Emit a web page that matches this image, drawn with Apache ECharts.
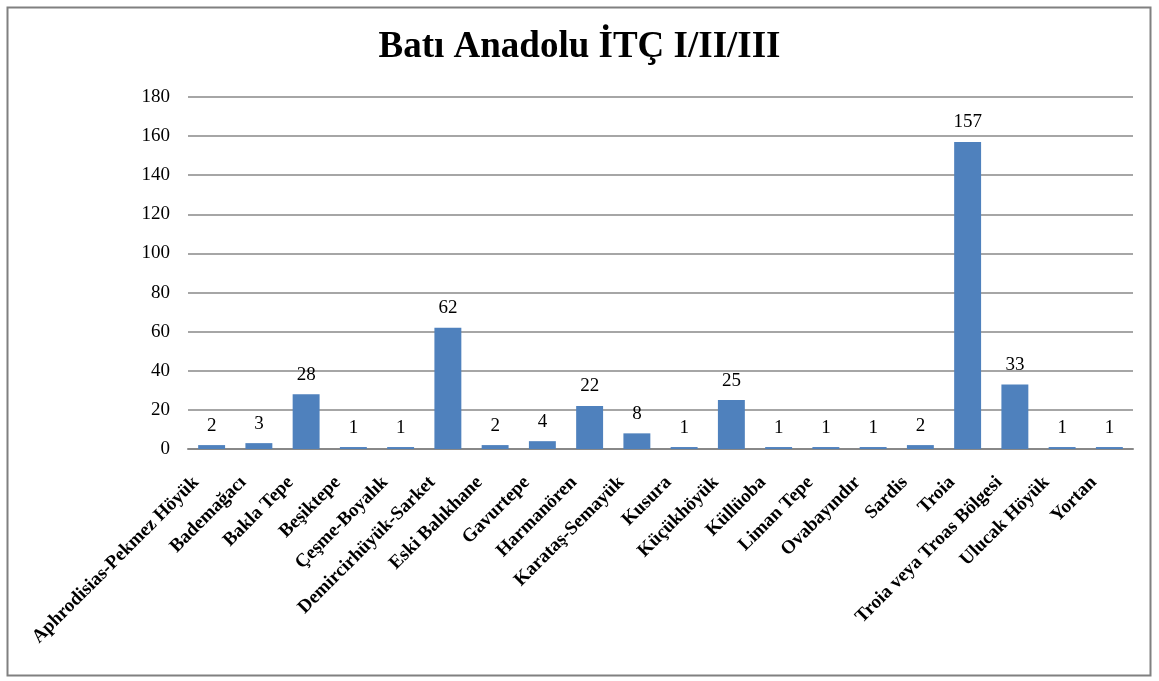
<!DOCTYPE html>
<html>
<head>
<meta charset="utf-8">
<script src="https://cdn.jsdelivr.net/npm/echarts@6/dist/echarts.min.js"></script>
<style>
  html, body { margin: 0; padding: 0; background: #fff; }
  #chart { width: 1159px; height: 681px; }
</style>
</head>
<body>
<div id="chart"></div>
<script>
var title_text = 'Batı Anadolu İTÇ I/II/III';
var sites = ['Aphrodisias-Pekmez Höyük', 'Bademağacı', 'Bakla Tepe', 'Beşiktepe', 'Çeşme-Boyalık',
    'Demircirhüyük-Sarket', 'Eski Balıkhane', 'Gavurtepe', 'Harmanören', 'Karataş-Semayük',
    'Kusura', 'Küçükhöyük', 'Küllüoba', 'Liman Tepe', 'Ovabayındır', 'Sardis', 'Troia',
    'Troia veya Troas Bölgesi', 'Ulucak Höyük', 'Yortan'];
var counts = [2, 3, 28, 1, 1, 62, 2, 4, 22, 8, 1, 25, 1, 1, 1, 2, 157, 33, 1, 1];

var serif = '"Liberation Serif", "DejaVu Serif", serif';

var chart = echarts.init(document.getElementById('chart'));
var option = {
    animation: false,
    title: {
        text: title_text,
        left: 'center',
        top: 24,
        textStyle: {fontFamily: serif, fontSize: 37, fontWeight: 'bold', color: '#000'}
    },
    graphic: [{
        type: 'rect',
        shape: {x: 7.5, y: 7.5, width: 1143, height: 668},
        style: {fill: 'none', stroke: '#808080', lineWidth: 2},
        silent: true
    }],
    grid: {left: 188, right: 26, top: 97, bottom: 232},
    xAxis: {
        type: 'category',
        data: sites,
        axisTick: {show: false},
        axisLine: {lineStyle: {color: '#888', width: 2}},
        axisLabel: {
            interval: 0,
            rotate: 45,
            margin: 15,
            padding: [0, 22, 0, 0],
            fontFamily: serif,
            fontSize: 19,
            fontWeight: 'bold',
            color: '#000'
        }
    },
    yAxis: {
        type: 'value',
        min: 0,
        max: 180,
        interval: 20,
        axisLine: {show: false},
        axisTick: {show: false},
        splitLine: {lineStyle: {color: '#888', width: 1.5}},
        axisLabel: {margin: 18, fontFamily: serif, fontSize: 19, color: '#000'}
    },
    series: [{
        type: 'bar',
        data: counts,
        barWidth: '57%',
        itemStyle: {color: '#4F81BD'},
        label: {
            show: true,
            position: 'top',
            distance: 10,
            fontFamily: serif,
            fontSize: 19,
            color: '#000'
        }
    }]
};
chart.setOption(option);
</script>
</body>
</html>
